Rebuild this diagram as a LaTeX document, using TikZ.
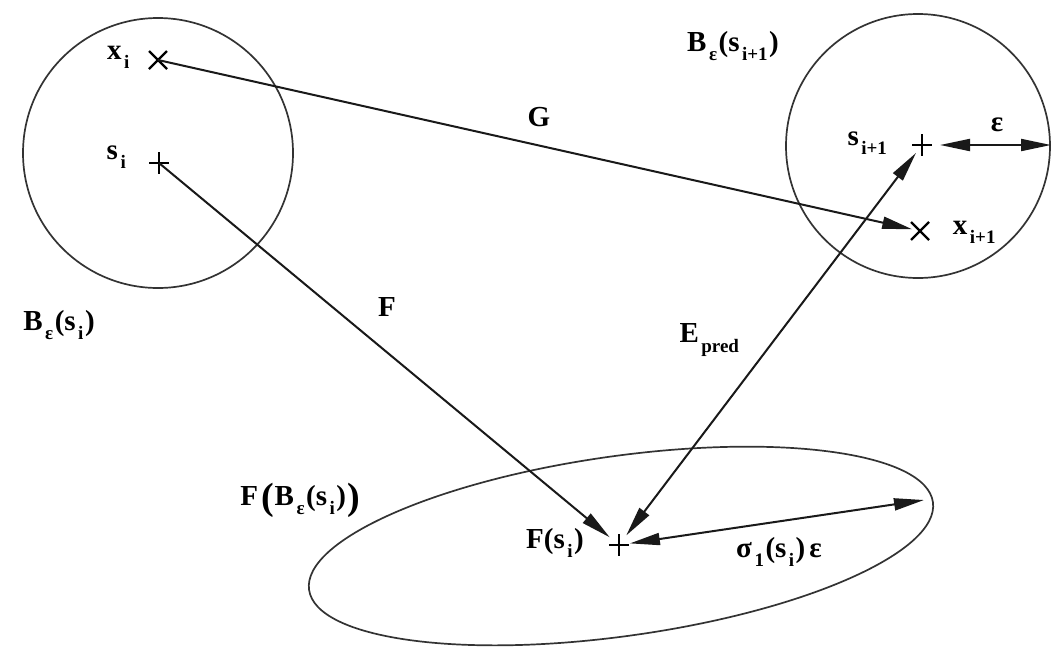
\documentclass[tikz,border=0pt]{standalone}
\usepackage{fontspec}
\setmainfont{Liberation Serif}
\usetikzlibrary{arrows.meta,shapes.geometric}
\newcommand\Sb[1]{\kern2.5pt\raisebox{-0.32em}{\fontsize{19}{19}\selectfont\bfseries #1}\kern1.5pt}
\newcommand\Bp[1]{\raisebox{-0.12em}{\fontsize{38}{38}\selectfont\bfseries #1}}
\tikzset{
  lab/.style={font=\fontsize{29}{32}\selectfont\bfseries, inner sep=0pt},
  ring/.style={draw=black!80, line width=1.7pt, inner sep=0pt},
  conn/.style={draw=black!90, line width=2pt},
  tip/.style={-{Triangle[length=30pt,width=12pt]}},
  tips/.style={{Triangle[length=30pt,width=12pt]}-{Triangle[length=30pt,width=12pt]}},
  mk/.style={draw=black, line width=2.2pt}
}
\begin{document}
\begin{tikzpicture}[x=1pt,y=-1pt]
\path[use as bounding box, fill=white] (0,0) rectangle (1053,649);
% points
\coordinate (xi) at (158,60);
\coordinate (si) at (159,163);
\coordinate (si1) at (922,145);
\coordinate (xi1) at (920,231);
\coordinate (Fs) at (619,545);
\coordinate (epsend) at (1051,145);
\coordinate (sigend) at (924,500);
% sets
\node[ring, circle, minimum size=270pt] (B1) at (158,153) {};
\node[ring, circle, minimum size=264pt] (B2) at (918,146) {};
\node[ring, ellipse, minimum width=630pt, minimum height=180pt, rotate=8] (FB) at (621,546) {};
% marks
\draw[mk] (xi) +(-9,-9) -- +(9,9) (xi) +(-9,9) -- +(9,-9);
\draw[mk] (xi1) +(-9,-9) -- +(9,9) (xi1) +(-9,9) -- +(9,-9);
\draw[mk] (si) +(-10,0) -- +(10,0) (si) +(0,-11) -- +(0,11);
\draw[mk] (si1) +(-10,0) -- +(10,0) (si1) +(0,-11) -- +(0,11);
\draw[mk] (Fs) +(-10,0) -- +(10,0) (Fs) +(0,-11) -- +(0,11);
% connectors
\draw[conn, tip, shorten >=8pt] (xi) -- (xi1);
\draw[conn, tip, shorten >=12pt] (si) -- (Fs);
\draw[conn, tips, shorten >=10pt, shorten <=12pt] (Fs) -- (si1);
\draw[conn, tips, shorten <=18pt] (si1) -- (epsend);
\draw[conn, tips, shorten <=11pt] (Fs) -- (sigend);
% labels
\node[lab] (lxi) at (119,57) {x\Sb{i}};
\node[lab] (lsi) at (117,157) {s\Sb{i}};
\node[lab] (lsi1) at (868,143) {s\Sb{i+1}};
\node[lab] (lxi1) at (975,232) {x\Sb{i+1}};
\node[lab] (leps) at (997,125) {ε};
\node[lab] (lB1) at (59,325) {B\Sb{ε}(s\Sb{i})};
\node[lab] (lB2) at (733,46) {B\Sb{ε}(s\Sb{i+1})};
\node[lab] (lF) at (387,307) {F};
\node[lab] (lG) at (539,117) {G};
\node[lab] (lE) at (710,340) {E\Sb{pred}};
\node[lab] (lFB) at (300,500) {F\kern3pt\Bp{(}\kern1pt B\Sb{ε}(s\Sb{i})\kern1pt\Bp{)}};
\node[lab] (lFs) at (555,543) {F(s\Sb{i})};
\node[lab] (lsig) at (779,552) {σ\Sb{1}(s\Sb{i})\kern4pt ε};
\end{tikzpicture}
\end{document}
